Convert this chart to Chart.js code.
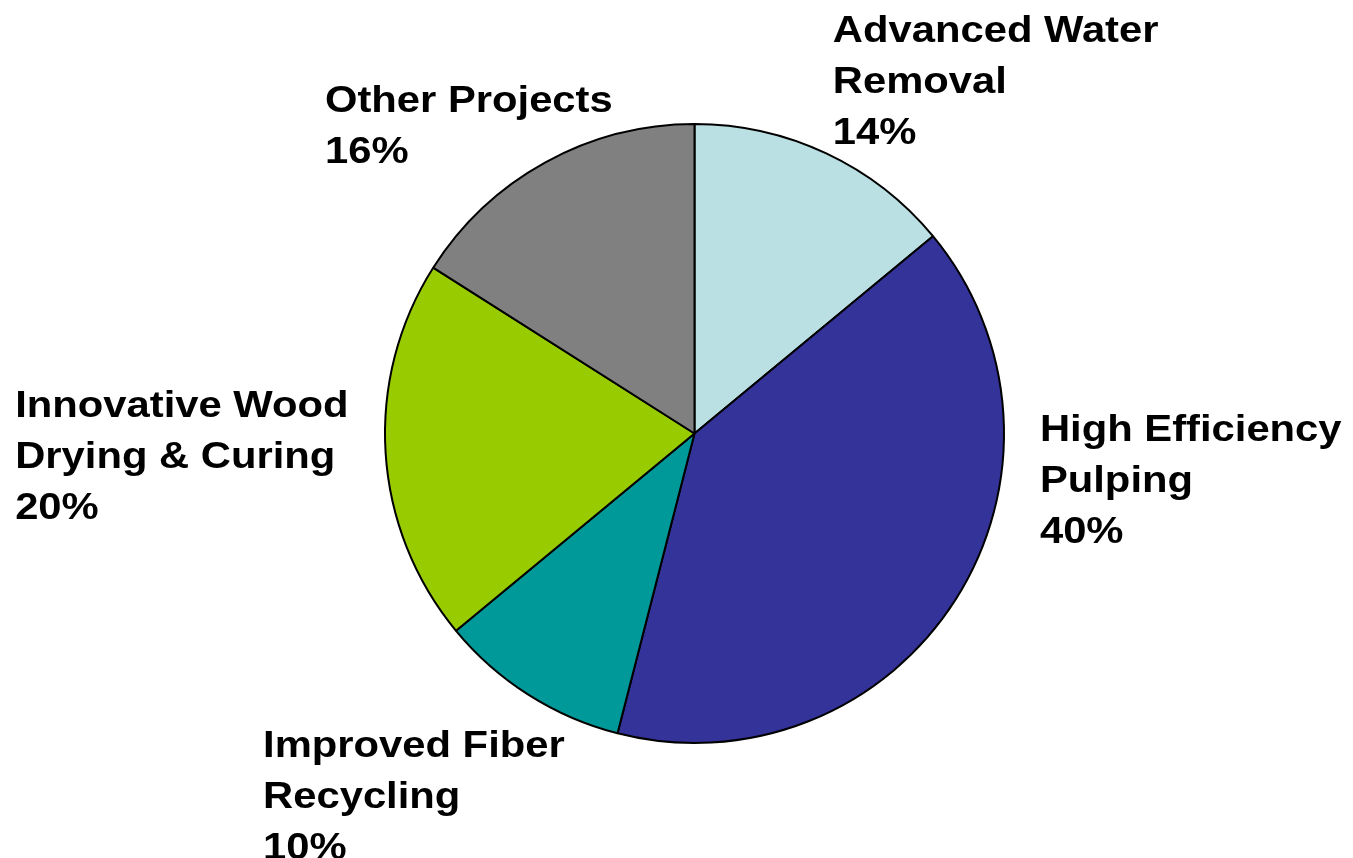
<!DOCTYPE html>
<html lang="en">
<head>
  <meta charset="UTF-8">
  <title>Project Share Pie</title>
  <script src="https://cdn.jsdelivr.net/npm/chart.js"></script>
  <style>
    body {
      margin: 0;
      background: #fff;
    }
    #wrap {
      width: 1353px;
      height: 858px;
    }
  </style>
</head>
<body>
  <div id="wrap"><canvas id="myChart" width="1353" height="858"></canvas></div>

  <script>
    // data, clockwise from 12 o'clock
    const categories = [
      'Advanced Water\nRemoval',
      'High Efficiency\nPulping',
      'Improved Fiber\nRecycling',
      'Innovative Wood\nDrying & Curing',
      'Other Projects'
    ];
    const shares = [14, 40, 10, 20, 16];
    const sliceColors = ['#BBE0E3', '#333399', '#009999', '#99CC00', '#808080'];

    // where each label's first baseline starts, in pie radii from the centre
    const labelSpots = [
      [0.447, -1.265],
      [1.116, 0.024],
      [-1.394, 1.045],
      [-2.195, -0.053],
      [-1.194, -1.039]
    ];

    const sliceLabels = {
      id: 'sliceLabels',
      afterDatasetsDraw(chart) {
        const ctx = chart.ctx;
        const meta = chart.getDatasetMeta(0);
        ctx.save();
        ctx.fillStyle = '#000';
        ctx.font = 'bold 36px "Liberation Sans", Arial, sans-serif';
        ctx.textBaseline = 'alphabetic';
        ctx.textAlign = 'left';
        meta.data.forEach((arc, i) => {
          const p = arc.getProps(['x', 'y', 'outerRadius'], true);
          const lines = categories[i].split('\n').concat(shares[i] + '%');
          const x0 = p.x + labelSpots[i][0] * p.outerRadius;
          const y0 = p.y + labelSpots[i][1] * p.outerRadius;
          lines.forEach((t, j) => {
            ctx.save();
            ctx.translate(x0, y0 + j * 51);
            ctx.scale(1.16, 1); // the source text is a bit wide
            ctx.fillText(t, 0, 0);
            ctx.restore();
          });
        });
        ctx.restore();
      }
    };

    const ctx = document.getElementById('myChart').getContext('2d');
    new Chart(ctx, {
      type: 'pie',
      data: {
        labels: categories,
        datasets: [{
          data: shares,
          backgroundColor: sliceColors,
          borderColor: '#000',
          borderWidth: 2
        }]
      },
      options: {
        responsive: false,
        animation: false,
        layout: {
          padding: { left: 236, right: 200, top: 123, bottom: 114 }
        },
        plugins: {
          legend: { display: false },
          tooltip: { enabled: false }
        }
      },
      plugins: [sliceLabels]
    });
  </script>
</body>
</html>
